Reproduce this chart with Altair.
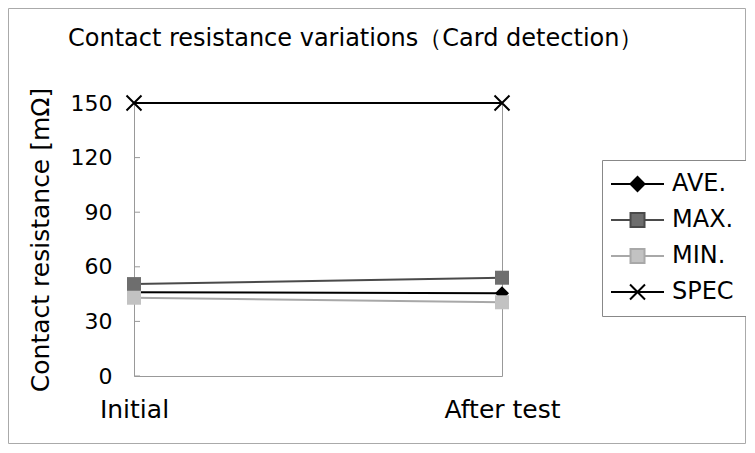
import altair as alt
import pandas as pd

# ---- data ----
stages = ["Initial", "After test"]
series = ["AVE.", "MAX.", "MIN.", "SPEC"]
ave = [46.0, 45.5]
mx = [50.5, 54.0]
mn = [43.0, 40.5]
spec = [150, 150]
y_ticks = [0, 30, 60, 90, 120, 150]

title_text = "Contact resistance variations（Card detection）"
y_title = "Contact resistance [mΩ]"

line_colors = ["#000000", "#4a4a4a", "#a8a8a8", "#000000"]
fill_colors = ["#000000", "#6e6e6e", "#c2c2c2", "#000000"]

FONT = "DejaVu Sans"

rows = []
for name, vals in zip(series, [ave, mx, mn, spec]):
    for st, v in zip(stages, vals):
        rows.append({"series": name, "stage": st, "value": v})
df = pd.DataFrame(rows)
ticks_df = pd.DataFrame({"t": y_ticks})

W, H = 368, 273

xscale = alt.Scale(domain=stages, padding=0)
yscale = alt.Scale(domain=[0, 150], nice=False)

x_enc = alt.X("stage:N", scale=xscale, sort=stages, title=None,
              axis=alt.Axis(labelAngle=0, ticks=False, domain=False, labelFontSize=25,
                            labelFont=FONT, labelColor="#000", labelPadding=21, grid=False))
y_enc = alt.Y("value:Q", scale=yscale, title=y_title,
              axis=alt.Axis(values=y_ticks, ticks=False, domain=False, grid=False,
                            labelFontSize=22, labelFont=FONT, labelColor="#000",
                            labelPadding=22, titleFontSize=25, titleFont=FONT,
                            titleFontWeight="normal", titleColor="#000", titlePadding=17))

# legend symbols: line with marker in the middle (unit coords scaled by sqrt(size)/2)
S0 = -2.14          # left end of the line (units of 7px)
S1 = 5.43           # right end of the line
c = (S0 + S1) / 2   # marker centre
def seg_line(a, b):
    return f"M{S0},0L{a:.3f},0M{b:.3f},0L{S1},0"
leg_paths = [
    seg_line(c - 1, c + 1) + f"M{c-1:.3f},0L{c:.3f},-1L{c+1:.3f},0L{c:.3f},1Z",
    seg_line(c - 1, c + 1) + f"M{c-1:.3f},-1L{c+1:.3f},-1L{c+1:.3f},1L{c-1:.3f},1Z",
    seg_line(c - 1, c + 1) + f"M{c-1:.3f},-1L{c+1:.3f},-1L{c+1:.3f},1L{c-1:.3f},1Z",
    f"M{S0},0L{S1},0" + f"M{c-1.07:.3f},-1.07L{c+1.07:.3f},1.07M{c-1.07:.3f},1.07L{c+1.07:.3f},-1.07",
]

leg = alt.Legend(orient="none", legendX=468, legendY=57, title=None,
                 labelFontSize=24, labelFont=FONT, labelColor="#000",
                 symbolSize=196, symbolStrokeWidth=2, labelOffset=34,
                 padding=12, strokeColor="#888", fillColor="#fff", rowPadding=12,
                 symbolOpacity=1)

stroke_enc = alt.Stroke("series:N", scale=alt.Scale(domain=series, range=line_colors), legend=leg)

base = alt.Chart(df)

lines = base.mark_line(strokeWidth=2).encode(
    x=x_enc, y=y_enc, stroke=stroke_enc, detail="series:N",
)

ticks = alt.Chart(ticks_df).mark_rule(color="#999", strokeWidth=1).encode(
    y=alt.Y("t:Q", scale=yscale), x=alt.value(0), x2=alt.value(6)
)

xpath = "M-1,-1L1,1M-1,1L1,-1"
pt_ave = base.transform_filter(alt.datum.series == "AVE.").mark_point(
    shape="diamond", size=196, filled=True, color="#000", opacity=1).encode(x=x_enc, y=y_enc)
pt_max = base.transform_filter(alt.datum.series == "MAX.").mark_point(
    shape="square", size=196, filled=True, color="#6e6e6e", opacity=1).encode(x=x_enc, y=y_enc)
pt_min = base.transform_filter(alt.datum.series == "MIN.").mark_point(
    shape="square", size=196, filled=True, color="#c2c2c2", opacity=1).encode(x=x_enc, y=y_enc)
pt_spec = base.transform_filter(alt.datum.series == "SPEC").mark_point(
    shape=xpath, size=225, filled=False, stroke="#000", strokeWidth=2, opacity=1).encode(x=x_enc, y=y_enc)

# legend-only layer (no rows drawn; legend built from the explicit scale domains)
legend_layer = base.transform_filter(alt.datum.value < 0).mark_point(
    size=196, strokeWidth=2, opacity=1).encode(
    x=x_enc, y=y_enc,
    shape=alt.Shape("series:N", scale=alt.Scale(domain=series, range=leg_paths), legend=leg),
    fill=alt.Fill("series:N", scale=alt.Scale(domain=series, range=fill_colors), legend=leg),
    stroke=stroke_enc,
)

border = alt.Chart(pd.DataFrame({"a": [0]})).mark_rect(
    fill=None, stroke="#aaa", strokeWidth=1).encode(
    x=alt.value(-125.5), x2=alt.value(611.5), y=alt.value(-94.5), y2=alt.value(340.5))

chart = alt.layer(border, ticks, lines, pt_ave, pt_max, pt_min, pt_spec, legend_layer).properties(
    width=W, height=H,
    title=alt.TitleParams(title_text, anchor="start", frame="group", dx=-66, offset=-62,
                          fontSize=24, font=FONT, fontWeight="normal", color="#000",
                          baseline="alphabetic"),
    padding={"left": 126, "top": 95, "right": 244, "bottom": 68},
    autosize=alt.AutoSizeParams(type="none"),
).configure(background="#fff", view=alt.ViewConfig(stroke="#999", strokeWidth=1))

chart.save("out.html", embed_options={"renderer": "svg", "actions": False})
